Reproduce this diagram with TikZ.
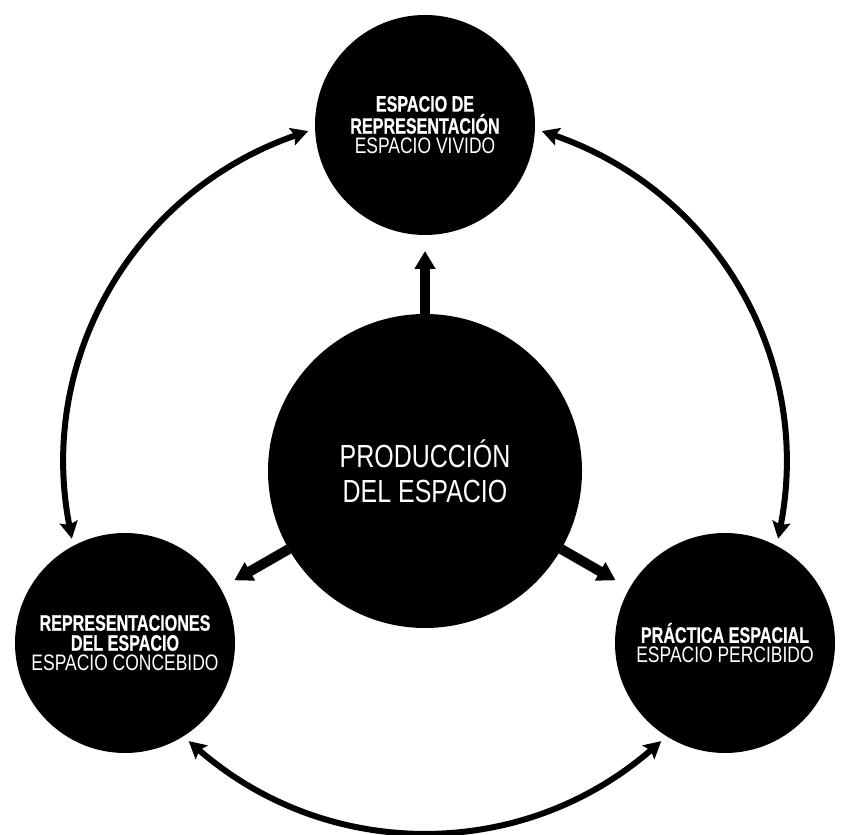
\documentclass[tikz,border=0pt]{standalone}
\usepackage{fontspec}
\setmainfont{Liberation Sans}[FakeStretch=0.78,BoldFeatures={FakeStretch=0.72,FakeBold=0.6}]
\usetikzlibrary{arrows.meta}
\tikzset{
  disc/.style={circle, fill=black, text=white, inner sep=0pt, minimum size=110pt, outer sep=3.5pt, align=center, font=\fontsize{11.2}{10}\selectfont},
  spoke/.style={line width=5pt, -{Triangle[length=9pt,width=10pt]}, shorten >=4.5pt},
  ring/.style={line width=3pt, {Stealth[length=8.5pt,width=9pt,inset=1.5pt]}-{Stealth[length=8.5pt,width=9pt,inset=1.5pt]}},
}
\begin{document}
\begin{tikzpicture}[x=0.5pt,y=0.5pt]
\useasboundingbox (0,0) rectangle (850,834);
\node[disc, minimum size=157pt, outer sep=0pt, font=\fontsize{16}{17.5}\selectfont] (prod) at (425,363) {PRODUCCIÓN\\DEL ESPACIO};
\node[disc] (vivido) at (425,709) {\textbf{ESPACIO DE}\\\textbf{REPRESENTACIÓN}\\ESPACIO VIVIDO};
\node[disc] (concebido) at (125,191) {\textbf{REPRESENTACIONES}\\\textbf{DEL ESPACIO}\\ESPACIO CONCEBIDO};
\node[disc] (percibido) at (725,191) {\textbf{PRÁCTICA ESPACIAL}\\ESPACIO PERCIBIDO};
% production feeds the three spaces
\draw[spoke] (prod) -- (vivido);
\draw[spoke] (prod) -- (concebido);
\draw[spoke] (prod) -- (percibido);
% the outer ring
\draw[ring] (vivido.183) to[out=199, in=101] (concebido.117);
\draw[ring] (concebido.303) to[out=319, in=221] (percibido.237);
\draw[ring] (percibido.63) to[out=79, in=341] (vivido.357);
\end{tikzpicture}
\end{document}
